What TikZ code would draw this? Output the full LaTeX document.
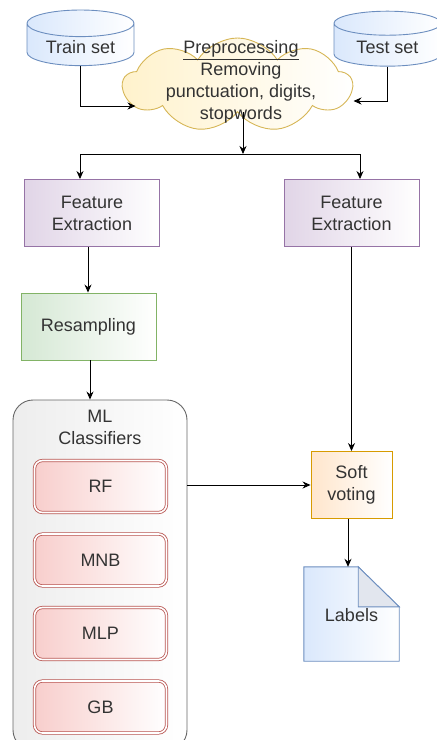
\documentclass[tikz,border=0pt]{standalone}
\usepackage{fontspec}
\setmainfont{Liberation Sans}
\usetikzlibrary{shapes.geometric,shapes.symbols,arrows.meta}

\definecolor{txtgray}{HTML}{333333}
\definecolor{bluefill}{HTML}{DAE8FC}
\definecolor{bluedraw}{HTML}{6C8EBF}
\definecolor{yelfill}{HTML}{FFF2CC}
\definecolor{yeldraw}{HTML}{D6B656}
\definecolor{purfill}{HTML}{E1D5E7}
\definecolor{purdraw}{HTML}{9673A6}
\definecolor{grnfill}{HTML}{D5E8D4}
\definecolor{grndraw}{HTML}{82B366}
\definecolor{redfill}{HTML}{F8CECC}
\definecolor{reddraw}{HTML}{B85450}
\definecolor{orafill}{HTML}{FFE6CC}
\definecolor{oradraw}{HTML}{D79B00}
\definecolor{foldfill}{HTML}{E2E6EE}

\tikzset{
  every node/.style={text=txtgray, font=\fontsize{18}{22}\selectfont, align=center},
  arr/.style={-{Stealth[length=8pt,width=7pt]}, line width=0.9pt},
  dbbox/.style={cylinder, shape border rotate=90, aspect=0.35, draw=bluedraw,
    line width=0.9pt, left color=bluefill, right color=white,
    minimum width=107pt, minimum height=55pt},
  fbox/.style={rectangle, draw=purdraw, line width=0.9pt, left color=purfill,
    right color=white, minimum width=135pt, minimum height=67pt},
  clfbox/.style={rectangle, rounded corners=8pt, draw=reddraw, double=white,
    double distance=1.6pt, line width=0.8pt, left color=redfill, right color=white,
    minimum width=132pt, minimum height=52pt}
}

\begin{document}
\begin{tikzpicture}[x=1pt,y=-1pt]
  \useasboundingbox (0,0) rectangle (437,740);
  \clip (0,0) rectangle (437,740);

  % data sets
  \node[dbbox] (train) at (80.5,47) {Train set};
  \node[dbbox] (test) at (387.5,47) {Test set};

  % preprocessing cloud
  \node[cloud, cloud puffs=9, cloud puff arc=115, aspect=2.4, draw=yeldraw,
    line width=0.9pt, left color=yelfill, right color=white,
    minimum width=229pt, minimum height=94pt] (prep) at (237.5,85) {};
  \node (preptxt) at (241,82) {\underline{Preprocessing}\\Removing\\punctuation, digits,\\stopwords};

  % feature extraction
  \node[fbox] (featl) at (92,213) {Feature\\Extraction};
  \node[fbox] (featr) at (351.5,213) {Feature\\Extraction};

  \node[rectangle, draw=grndraw, line width=0.9pt, left color=grnfill, right color=white,
    minimum width=135pt, minimum height=67pt] (resamp) at (88.5,326.5) {Resampling};

  % classifiers
  \node[rectangle, rounded corners=20pt, draw=black!60, line width=0.9pt,
    left color=black!7, right color=white, minimum width=174pt,
    minimum height=350pt] (ml) at (100,575) {};
  \node (mltxt) at (100,427) {ML\\Classifiers};
  \node[clfbox] (rf) at (100.5,486.5) {RF};
  \node[clfbox] (mnb) at (100.5,560) {MNB};
  \node[clfbox] (mlp) at (100.5,633.5) {MLP};
  \node[clfbox] (gb) at (100.5,707) {GB};

  \node[rectangle, draw=oradraw, line width=0.9pt, left color=orafill, right color=white,
    minimum width=81pt, minimum height=67pt] (vote) at (351.5,485) {Soft\\voting};

  % labels document
  \node[minimum width=95pt, minimum height=94pt] (lab) at (351.5,614) {};
  \path[draw=bluedraw, line width=0.9pt, left color=bluefill, right color=white]
    (lab.south west) -- (lab.north west) -- ([xshift=-41pt]lab.north east)
    -- ([yshift=-40pt]lab.north east) -- (lab.south east) -- cycle;
  \path[draw=bluedraw, line width=0.9pt, fill=foldfill]
    ([xshift=-41pt]lab.north east) -- ([xshift=-41pt,yshift=-40pt]lab.north east)
    -- ([yshift=-40pt]lab.north east) -- cycle;
  \node (labtxt) at (351.5,615) {Labels};

  % connectors
  \draw[arr] (train.south) |- ([xshift=14pt]prep.west |- 0,106);
  \draw[arr] (test.south) |- (prep.east |- 0,101);
  \draw[arr] (prep.south -| 243,0) -- (243,154);
  \draw[line width=0.9pt] (80,154) -- (360,154);
  \draw[arr] (80,154) -- (featl.north -| 80,0);
  \draw[arr] (360,154) -- (featr.north -| 360,0);
  \draw[arr] (featl.south -| 88,0) -- (resamp.north -| 88,0);
  \draw[arr] (resamp.south -| 90,0) -- (ml.north -| 90,0);
  \draw[arr] (ml.east |- vote.west) -- (vote.west);
  \draw[arr] (featr.south) -- (vote.north);
  \draw[arr] (vote.south -| 348,0) -- (lab.north -| 348,0);
\end{tikzpicture}
\end{document}
